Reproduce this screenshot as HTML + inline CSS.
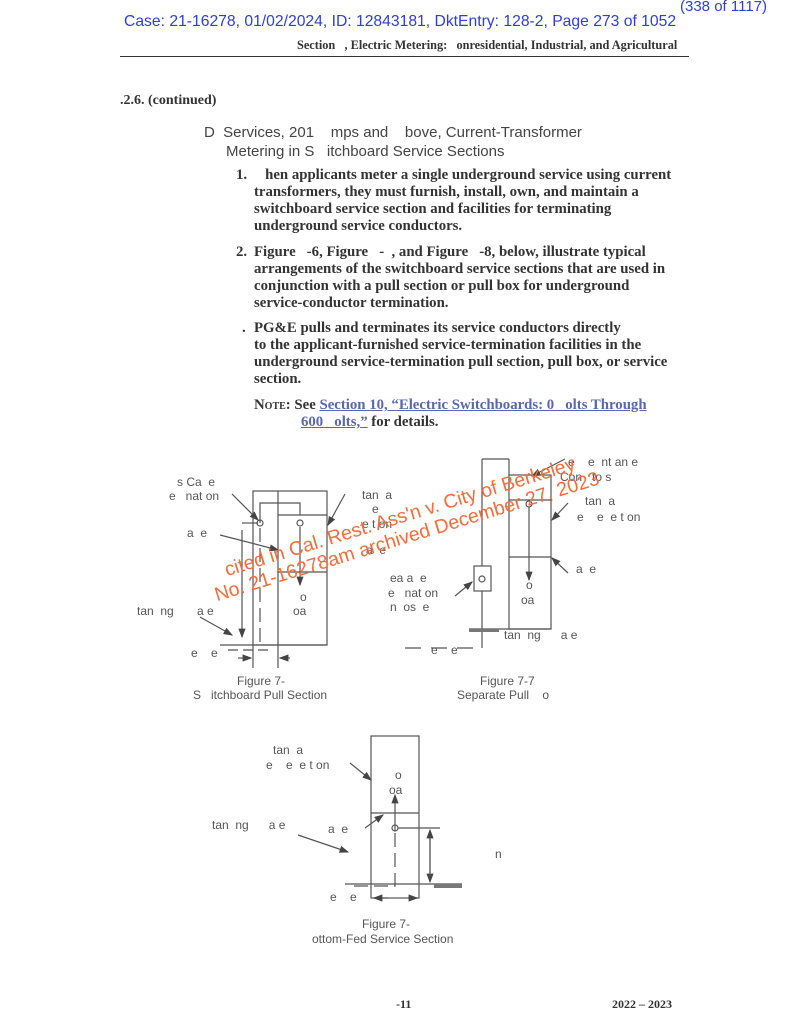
<!DOCTYPE html>
<html><head><meta charset="utf-8"><style>
body{margin:0;background:#fff;width:800px;height:1035px;position:relative;overflow:hidden}
.t{position:absolute;white-space:nowrap}
.s{font-family:"Liberation Serif",serif;font-weight:bold;font-size:14.8px;color:#333}
.a{font-family:"Liberation Sans",sans-serif;font-size:12px;color:#555}
.b{font-family:"Liberation Sans",sans-serif;font-size:15px;color:#444}
.wm{position:absolute;font-family:"Liberation Sans",sans-serif;font-size:19.5px;color:#f26d3d;white-space:nowrap;transform-origin:0 0;transform:rotate(-17deg)}
</style></head><body>
<div class="t" style="left:680px;top:-2px;font-family:'Liberation Sans',sans-serif;font-size:15px;color:#2f3fd0">(338 of 1117)</div>
<div class="t" style="left:124px;top:13px;font-family:'Liberation Sans',sans-serif;font-size:15.7px;color:#2f3fd0">Case: 21-16278, 01/02/2024, ID: 12843181, DktEntry: 128-2, Page 273 of 1052</div>
<div class="t s" style="left:297px;top:38px;font-size:12.3px">Section &nbsp;&nbsp;, Electric Metering: &nbsp;&nbsp;onresidential, Industrial, and Agricultural</div>
<div style="position:absolute;left:120px;top:56px;width:569px;height:1px;background:#333"></div>
<div class="t s" style="left:120px;top:93px;font-size:14px">.2.6. (continued)</div>
<div class="t b" style="left:204px;top:124px">D &nbsp;Services, 201 &nbsp;&nbsp;&nbsp;mps and &nbsp;&nbsp;&nbsp;bove, Current-Transformer</div>
<div class="t b" style="left:226px;top:143px">Metering in S &nbsp;&nbsp;itchboard Service Sections</div>
<div class="t s" style="left:236px;top:167px;line-height:17px">1.</div>
<div class="t s" style="left:254px;top:167px;line-height:17px">&nbsp;&nbsp;&nbsp;hen applicants meter a single underground service using current<br>transformers, they must furnish, install, own, and maintain a<br>switchboard service section and facilities for terminating<br>underground service conductors.</div>
<div class="t s" style="left:236px;top:244px;line-height:17px">2.</div>
<div class="t s" style="left:254px;top:244px;line-height:17px">Figure &nbsp;&nbsp;-6, Figure &nbsp;&nbsp;- &nbsp;, and Figure &nbsp;&nbsp;-8, below, illustrate typical<br>arrangements of the switchboard service sections that are used in<br>conjunction with a pull section or pull box for underground<br>service-conductor termination.</div>
<div class="t s" style="left:242px;top:320px;line-height:17px">.</div>
<div class="t s" style="left:254px;top:320px;line-height:17px">PG&amp;E pulls and terminates its service conductors directly<br>to the applicant-furnished service-termination facilities in the<br>underground service-termination pull section, pull box, or service<br>section.</div>
<div class="t s" style="left:254px;top:397px;line-height:17px"><span style="font-variant:small-caps">Note:</span> See <span style="color:#5a66b0;text-decoration:underline">Section 10, “Electric Switchboards: 0 &nbsp;&nbsp;olts Through</span></div>
<div class="t s" style="left:301px;top:414px;line-height:17px"><span style="color:#5a66b0;text-decoration:underline">600 &nbsp;&nbsp;olts,”</span> for details.</div>

<svg width="800" height="1035" style="position:absolute;left:0;top:0" fill="none" stroke="#555" stroke-width="1.2">
<defs><marker id="ar" markerWidth="8" markerHeight="6" refX="7" refY="3" orient="auto"><path d="M0,0L8,3L0,6z" fill="#444" stroke="none"/></marker></defs>
<rect x="253" y="491" width="74" height="154"/>
<line x1="278" y1="491" x2="278" y2="668"/>
<line x1="278" y1="515" x2="327" y2="515"/>
<line x1="278" y1="572" x2="327" y2="572"/>
<line x1="253" y1="645" x2="253" y2="668"/>
<path d="M260,523V503H300V515"/>
<line x1="260" y1="528" x2="260" y2="645" stroke-dasharray="14,6"/>
<circle cx="260" cy="523" r="3"/><circle cx="300" cy="523" r="3"/>
<line x1="300" y1="527" x2="300" y2="585" marker-end="url(#ar)"/>
<line x1="242" y1="523" x2="258" y2="523"/>
<line x1="242" y1="530" x2="242" y2="637" marker-end="url(#ar)"/>
<line x1="220" y1="645" x2="327" y2="645"/>
<line x1="228" y1="650" x2="270" y2="650" stroke-dasharray="10,5"/>
<line x1="238" y1="658" x2="251" y2="658" marker-end="url(#ar)"/>
<line x1="290" y1="658" x2="280" y2="658" marker-end="url(#ar)"/>
<line x1="232" y1="494" x2="258" y2="520" marker-end="url(#ar)"/>
<line x1="220" y1="535" x2="278" y2="550" marker-end="url(#ar)"/>
<line x1="345" y1="494" x2="328" y2="525" marker-end="url(#ar)"/>
<line x1="200" y1="617" x2="232" y2="635" marker-end="url(#ar)"/>
<line x1="482" y1="459" x2="482" y2="648"/>
<line x1="482" y1="459" x2="509" y2="459"/>
<rect x="509" y="475" width="42" height="154"/>
<line x1="509" y1="459" x2="509" y2="475"/>
<line x1="509" y1="500" x2="551" y2="500"/>
<line x1="509" y1="557" x2="551" y2="557"/>
<circle cx="529" cy="504" r="3"/>
<line x1="529" y1="507" x2="529" y2="580" marker-end="url(#ar)"/>
<rect x="474" y="566" width="17" height="25" fill="#fff"/>
<circle cx="482" cy="579" r="3"/>
<line x1="469" y1="629" x2="551" y2="629"/>
<rect x="469" y="629" width="30" height="3" fill="#777" stroke="none"/>
<line x1="405" y1="648" x2="482" y2="648" stroke-dasharray="16,10"/>
<line x1="455" y1="596" x2="472" y2="582" marker-end="url(#ar)"/>
<line x1="565" y1="459" x2="532" y2="476" marker-end="url(#ar)"/>
<line x1="568" y1="503" x2="552" y2="520" marker-end="url(#ar)"/>
<line x1="568" y1="573" x2="552" y2="558" marker-end="url(#ar)"/>
<rect x="371" y="736" width="48" height="162"/>
<line x1="371" y1="813" x2="419" y2="813"/>
<circle cx="395" cy="828" r="3"/>
<line x1="395" y1="831" x2="395" y2="795" marker-end="url(#ar)"/>
<path d="M395,833V886H350" stroke-dasharray="14,6"/>
<line x1="345" y1="884" x2="462" y2="884"/>
<rect x="434" y="884" width="28" height="4" fill="#777" stroke="none"/>
<line x1="398" y1="828" x2="440" y2="828"/>
<line x1="430" y1="835" x2="430" y2="882" marker-end="url(#ar)"/>
<line x1="430" y1="877" x2="430" y2="830" marker-end="url(#ar)"/>
<line x1="388" y1="898" x2="374" y2="898" marker-end="url(#ar)"/>
<line x1="408" y1="898" x2="417" y2="898" marker-end="url(#ar)"/>
<line x1="350" y1="763" x2="371" y2="780" marker-end="url(#ar)"/>
<line x1="365" y1="828" x2="383" y2="815" marker-end="url(#ar)"/>
<line x1="298" y1="835" x2="348" y2="852" marker-end="url(#ar)"/>
</svg>

<div class="t a" style="left:177px;top:475px">s Ca &nbsp;e</div>
<div class="t a" style="left:169px;top:489px">e &nbsp;&nbsp;nat on</div>
<div class="t a" style="left:187px;top:526px">a &nbsp;e</div>
<div class="t a" style="left:362px;top:488px">tan &nbsp;a</div>
<div class="t a" style="left:362px;top:502px">&nbsp;&nbsp;&nbsp;e</div>
<div class="t a" style="left:362px;top:517px">e t on</div>
<div class="t a" style="left:366px;top:543px">a &nbsp;e</div>
<div class="t a" style="left:300px;top:590px">o</div>
<div class="t a" style="left:293px;top:604px">oa</div>
<div class="t a" style="left:137px;top:604px">tan &nbsp;ng &nbsp;&nbsp;&nbsp;&nbsp;&nbsp;&nbsp;a e</div>
<div class="t a" style="left:191px;top:646px">e &nbsp;&nbsp;&nbsp;e</div>
<div class="t a" style="left:237px;top:674px">Figure 7-</div>
<div class="t a" style="left:193px;top:688px">S &nbsp;&nbsp;itchboard Pull Section</div>

<div class="t a" style="left:568px;top:455px">e &nbsp;&nbsp;&nbsp;e &nbsp;nt an e</div>
<div class="t a" style="left:560px;top:470px">Con &nbsp;&nbsp;to s</div>
<div class="t a" style="left:585px;top:494px">tan &nbsp;a</div>
<div class="t a" style="left:577px;top:510px">e &nbsp;&nbsp;&nbsp;e &nbsp;e t on</div>
<div class="t a" style="left:576px;top:562px">a &nbsp;e</div>
<div class="t a" style="left:390px;top:571px">ea a &nbsp;e</div>
<div class="t a" style="left:388px;top:586px">e &nbsp;&nbsp;nat on</div>
<div class="t a" style="left:390px;top:600px">n &nbsp;os &nbsp;e</div>
<div class="t a" style="left:526px;top:578px">o</div>
<div class="t a" style="left:521px;top:593px">oa</div>
<div class="t a" style="left:504px;top:628px">tan &nbsp;ng &nbsp;&nbsp;&nbsp;&nbsp;&nbsp;a e</div>
<div class="t a" style="left:431px;top:643px">e &nbsp;&nbsp;&nbsp;e</div>
<div class="t a" style="left:480px;top:674px">Figure 7-7</div>
<div class="t a" style="left:457px;top:688px">Separate Pull &nbsp;&nbsp;&nbsp;o</div>

<div class="t a" style="left:273px;top:743px">tan &nbsp;a</div>
<div class="t a" style="left:266px;top:758px">e &nbsp;&nbsp;&nbsp;e &nbsp;e t on</div>
<div class="t a" style="left:395px;top:768px">o</div>
<div class="t a" style="left:389px;top:783px">oa</div>
<div class="t a" style="left:212px;top:818px">tan &nbsp;ng &nbsp;&nbsp;&nbsp;&nbsp;&nbsp;a e</div>
<div class="t a" style="left:328px;top:822px">a &nbsp;e</div>
<div class="t a" style="left:495px;top:847px">n</div>
<div class="t a" style="left:330px;top:890px">e &nbsp;&nbsp;&nbsp;e</div>
<div class="t a" style="left:362px;top:917px">Figure 7-</div>
<div class="t a" style="left:312px;top:932px">ottom-Fed Service Section</div>

<div class="wm" style="left:222px;top:560px">cited in Cal. Rest. Ass'n v. City of Berkeley</div>
<div class="wm" style="left:212px;top:585px">No. 21-16278am archived December 27, 2023</div>

<div class="t s" style="left:396px;top:997px;font-size:12px">-11</div>
<div class="t s" style="left:612px;top:997px;font-size:12px">2022 – 2023</div>
</body></html>
